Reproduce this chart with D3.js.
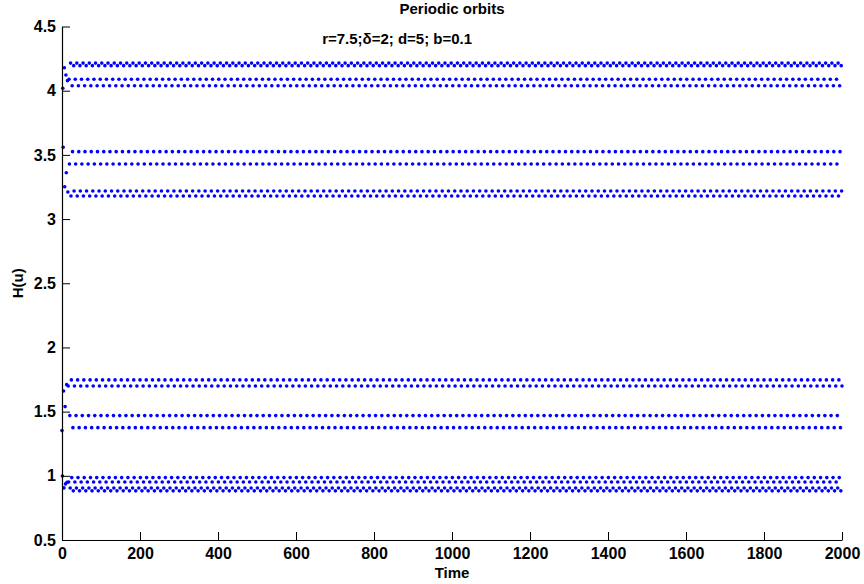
<!DOCTYPE html>
<html>
<head>
<meta charset="utf-8">
<script src="https://cdn.jsdelivr.net/npm/d3@7"></script>
<style>
  html, body { margin: 0; padding: 0; background: #fff; }
  svg { display: block; font-family: "Liberation Sans", Arial, Helvetica, sans-serif; font-weight: bold; }
</style>
</head>
<body>
<svg id="chart" width="864" height="584"></svg>
<script>
// ---- data ----
const title = "Periodic orbits";
const annotation = "r=7.5;\u03B4=2; d=5; b=0.1";
const xLabel = "Time";
const yLabel = "H(u)";
const xTicks = [0, 200, 400, 600, 800, 1000, 1200, 1400, 1600, 1800, 2000];
const yTicks = [0.5, 1, 1.5, 2, 2.5, 3, 3.5, 4, 4.5];
const tMax = 2000;
// transient values for t = 0..15
const transientValues = [1.352, 0.999, 4.019, 3.559, 1.661, 0.906, 4.179, 3.252,
                         1.539, 0.937, 4.122, 3.361, 1.710, 0.950, 4.078, 3.211];
// period-16 orbit, indexed by t mod 16
const orbitValues = [1.700, 0.952, 4.089, 3.429, 1.469, 0.905, 4.215, 3.180,
                     1.747, 0.986, 4.039, 3.525, 1.375, 0.883, 4.195, 3.219];

(function () {
const series = [];
for (let t = 0; t <= tMax; t++) {
  series.push({ t: t, v: t < transientValues.length ? transientValues[t] : orbitValues[t % orbitValues.length] });
}

// ---- layout ----
const svg = d3.select("#chart");
const mLeft = 62, mRight = 842, mTop = 26.5, mBottom = 540;
const x = d3.scaleLinear().domain([0, 2000]).range([mLeft, mRight]);
const y = d3.scaleLinear().domain([0.5, 4.5]).range([mBottom, mTop]);

// points
svg.append("g").selectAll("circle").data(series).join("circle")
  .attr("cx", d => x(d.t)).attr("cy", d => y(d.v)).attr("r", 1.8)
  .attr("fill", "#0000ff");

// axes (ticks pointing inward)
const xAxis = svg.append("g").attr("transform", `translate(0,${mBottom})`)
  .call(d3.axisBottom(x).tickValues(xTicks).tickSizeInner(-8).tickSizeOuter(0).tickPadding(12).tickFormat(d3.format("d")));
const yAxis = svg.append("g").attr("transform", `translate(${mLeft},0)`)
  .call(d3.axisLeft(y).tickValues(yTicks).tickSizeInner(-8).tickSizeOuter(0).tickPadding(6).tickFormat(d => String(d)));
[xAxis, yAxis].forEach(a => {
  a.selectAll("path.domain").attr("stroke", "#000").attr("stroke-width", 1.2);
  a.selectAll(".tick line").attr("stroke", "#000").attr("stroke-width", 1);
  a.selectAll(".tick text").attr("fill", "#000").style("font-size", "16px").style("font-weight", "bold")
    .style("font-family", "'Liberation Sans', Arial, sans-serif");
});
xAxis.selectAll(".tick text").attr("dy", "0.71em").attr("y", 8);

// title and annotation
svg.append("text").attr("x", (mLeft + mRight) / 2).attr("y", 14).attr("text-anchor", "middle")
  .style("font-size", "15px").text(title);
svg.append("text").attr("x", x(667)).attr("y", 44).attr("text-anchor", "start")
  .style("font-size", "15px").text(annotation);

// axis labels
svg.append("text").attr("x", (mLeft + mRight) / 2).attr("y", 578).attr("text-anchor", "middle")
  .style("font-size", "15px").text(xLabel);
svg.append("text").attr("transform", `translate(23,${(mTop + mBottom) / 2}) rotate(-90)`)
  .attr("text-anchor", "middle").style("font-size", "15px").text(yLabel);
})();
</script>
</body>
</html>
